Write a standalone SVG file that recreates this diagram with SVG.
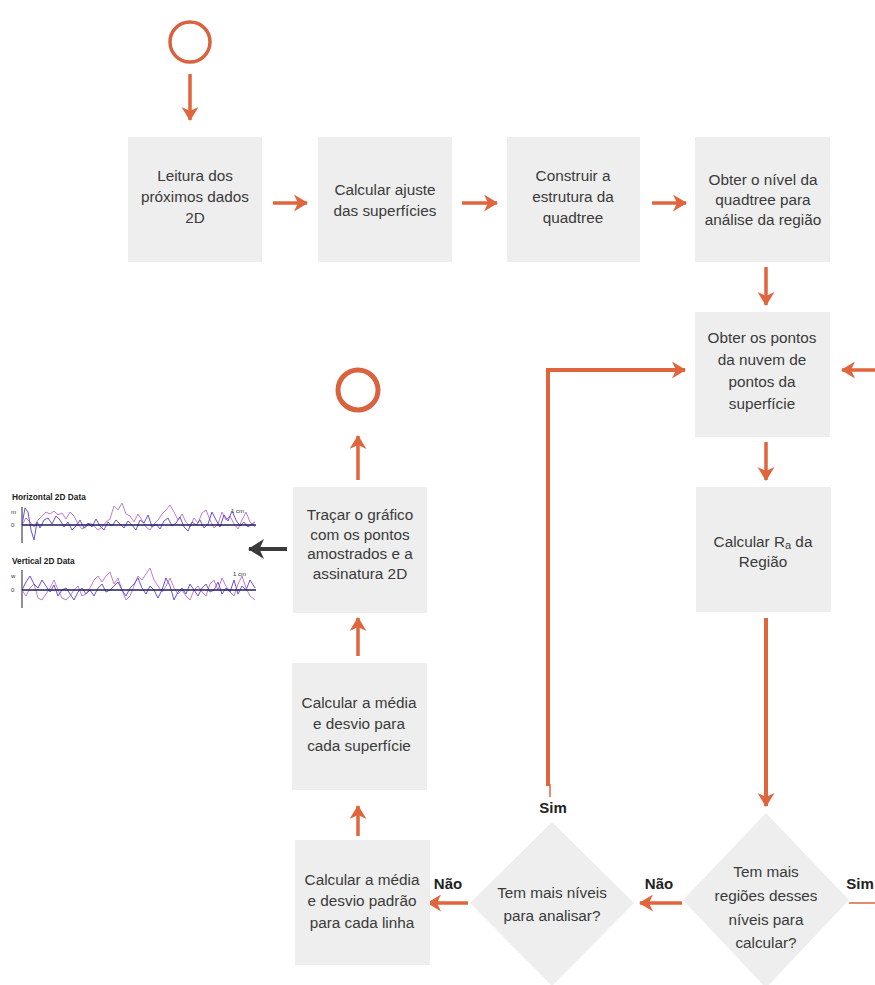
<svg xmlns="http://www.w3.org/2000/svg" width="875" height="985" viewBox="0 0 875 985">
  <defs>
    <style>
      .box { fill: #eeeeee; }
      .txt { font-family: "Liberation Sans", Arial, sans-serif; font-size: 15.3px; fill: #3a3a3a; text-anchor: middle; }
      .lbl { font-family: "Liberation Sans", Arial, sans-serif; font-size: 15px; font-weight: bold; fill: #222222; text-anchor: middle; }
      .flow { fill: none; stroke: #e0653d; stroke-width: 3.5; marker-end: url(#ah); }
      .thin { fill: none; stroke: #e0653d; stroke-width: 1.5; }
      .ring { fill: none; stroke: #d9623f; }
      .ctitle { font-family: "Liberation Sans", Arial, sans-serif; font-size: 8.3px; font-weight: bold; fill: #222222; }
      .ctick { font-family: "Liberation Sans", Arial, sans-serif; font-size: 6px; fill: #333333; }
    </style>
    <marker id="ah" markerUnits="userSpaceOnUse" markerWidth="15" markerHeight="17" refX="13" refY="8.5" orient="auto">
      <path d="M0,0 L14,8.5 L0,17 L4,8.5 z" fill="#e0653d"/>
    </marker>
    <marker id="ahd" markerUnits="userSpaceOnUse" markerWidth="17" markerHeight="20" refX="15" refY="10" orient="auto">
      <path d="M0,0 L16,10 L0,20 L4.5,10 z" fill="#3a3a3a"/>
    </marker>
  </defs>

  <!-- connectors -->
  <g id="connectors">
    <line class="flow" x1="190" y1="74" x2="190" y2="120"/>
    <line class="flow" x1="273" y1="203" x2="307" y2="203"/>
    <line class="flow" x1="462" y1="203" x2="497" y2="203"/>
    <line class="flow" x1="652" y1="203" x2="686" y2="203"/>
    <line class="flow" x1="766" y1="267" x2="766" y2="305"/>
    <line class="flow" x1="766" y1="442" x2="766" y2="480"/>
    <line class="flow" x1="766" y1="618" x2="766" y2="806" style="stroke-width:4"/>
    <line class="flow" x1="875" y1="370" x2="842" y2="370"/>
    <path class="flow" d="M548,786 L548,370 L685,370" style="stroke-width:4"/>
    <line class="thin" x1="550" y1="784" x2="550" y2="797"/>
    <line class="flow" x1="682" y1="903" x2="640" y2="903"/>
    <line class="flow" x1="468" y1="903" x2="428" y2="903"/>
    <line class="thin" x1="849" y1="903" x2="875" y2="903"/>
    <line class="flow" x1="358" y1="836" x2="358" y2="806"/>
    <line class="flow" x1="358" y1="656" x2="358" y2="618"/>
    <line class="flow" x1="358" y1="480" x2="358" y2="436"/>
    <line x1="287" y1="549" x2="249" y2="549" stroke="#3a3a3a" stroke-width="4" marker-end="url(#ahd)"/>
  </g>

  <!-- start / end -->
  <g id="start"><circle class="ring" cx="190" cy="42" r="20" stroke-width="3.5"/></g>
  <g id="end"><circle class="ring" cx="358" cy="390" r="20" stroke-width="5"/></g>

  <!-- process nodes -->
  <g id="leitura">
    <rect class="box" x="128" y="137" width="134" height="125"/>
    <text class="txt" x="195" y="181">Leitura dos</text>
    <text class="txt" x="195" y="202">próximos dados</text>
    <text class="txt" x="195" y="223">2D</text>
  </g>
  <g id="ajuste">
    <rect class="box" x="318" y="137" width="134" height="125"/>
    <text class="txt" x="385" y="195">Calcular ajuste</text>
    <text class="txt" x="385" y="216">das superfícies</text>
  </g>
  <g id="quadtree">
    <rect class="box" x="507" y="137" width="133" height="125"/>
    <text class="txt" x="573" y="181">Construir a</text>
    <text class="txt" x="573" y="202">estrutura da</text>
    <text class="txt" x="573" y="223">quadtree</text>
  </g>
  <g id="nivel">
    <rect class="box" x="695" y="137" width="135" height="125"/>
    <text class="txt" x="763" y="185">Obter o nível da</text>
    <text class="txt" x="763" y="205">quadtree para</text>
    <text class="txt" x="763" y="225">análise da região</text>
  </g>
  <g id="pontos">
    <rect class="box" x="695" y="312" width="135" height="125"/>
    <text class="txt" x="762" y="343">Obter os pontos</text>
    <text class="txt" x="762" y="365">da nuvem de</text>
    <text class="txt" x="762" y="387">pontos da</text>
    <text class="txt" x="762" y="409">superfície</text>
  </g>
  <g id="ra">
    <rect class="box" x="696" y="487" width="135" height="125"/>
    <text class="txt" x="763" y="547">Calcular R<tspan font-size="11px" dy="2">a</tspan><tspan dy="-2"> da</tspan></text>
    <text class="txt" x="763" y="567">Região</text>
  </g>
  <g id="tracar">
    <rect class="box" x="293" y="487" width="134" height="126"/>
    <text class="txt" x="360" y="520">Traçar o gráfico</text>
    <text class="txt" x="360" y="540">com os pontos</text>
    <text class="txt" x="360" y="559">amostrados e a</text>
    <text class="txt" x="360" y="579">assinatura 2D</text>
  </g>
  <g id="media-superficie">
    <rect class="box" x="292" y="663" width="135" height="127"/>
    <text class="txt" x="359" y="708">Calcular a média</text>
    <text class="txt" x="359" y="729">e desvio para</text>
    <text class="txt" x="359" y="751">cada superfície</text>
  </g>
  <g id="media-linha">
    <rect class="box" x="295" y="840" width="135" height="125"/>
    <text class="txt" x="362" y="885">Calcular a média</text>
    <text class="txt" x="362" y="906">e desvio padrão</text>
    <text class="txt" x="362" y="928">para cada linha</text>
  </g>

  <!-- decisions -->
  <g id="mais-niveis">
    <polygon class="box" points="552,822 634,903 552,986 470,903"/>
    <text class="txt" x="552" y="898">Tem mais níveis</text>
    <text class="txt" x="552" y="921">para analisar?</text>
  </g>
  <g id="mais-regioes">
    <polygon class="box" points="766,813 849,900 766,988 683,900"/>
    <text class="txt" x="766" y="877">Tem mais</text>
    <text class="txt" x="766" y="901">regiões desses</text>
    <text class="txt" x="766" y="925">níveis para</text>
    <text class="txt" x="766" y="948">calcular?</text>
  </g>

  <!-- branch labels -->
  <g id="labels">
    <text class="lbl" x="553" y="813">Sim</text>
    <text class="lbl" x="448" y="889">Não</text>
    <text class="lbl" x="659" y="889">Não</text>
    <text class="lbl" x="860" y="889">Sim</text>
  </g>

  <!-- sampled 2D signature plots -->
  <g id="plots">
    <text class="ctitle" x="12" y="500">Horizontal 2D Data</text>
    <text class="ctick" x="11" y="514">m</text>
    <text class="ctick" x="11" y="527">0</text>
    <text class="ctick" x="231" y="513">1 cm</text>
    <line x1="22" y1="507" x2="22" y2="543" stroke="#222" stroke-width="1"/>
    <polyline fill="none" stroke="#c27bd0" stroke-width="1" points="22,525 26,518 30,522 34,527 38,520 42,516 46,512 50,514 54,511 58,515 62,513 66,519 70,512 74,516 78,524 82,529 86,527 90,523 94,526 98,530 102,527 106,522 110,519 114,506 118,510 122,503 126,514 130,516 134,522 138,514 142,520 146,527 150,530 154,524 158,520 162,514 166,510 170,505 174,512 178,520 182,514 186,522 190,527 194,518 198,523 202,513 206,510 210,520 214,528 218,524 222,512 226,520 230,516 234,524 238,529 242,520 246,512 250,522 255,527"/>
    <polyline fill="none" stroke="#6a50d8" stroke-width="1" points="22,525 25,508 28,512 31,530 34,540 37,522 40,528 44,520 48,518 52,524 56,516 60,520 64,527 68,522 72,530 76,526 80,520 84,528 88,523 92,527 96,519 100,526 104,530 108,522 112,526 116,520 120,524 124,528 128,521 132,525 136,530 140,520 144,523 148,515 152,527 156,524 160,529 164,521 168,518 172,526 176,523 180,517 184,527 188,531 192,522 196,525 200,520 204,528 208,524 212,512 216,520 220,527 224,515 228,521 232,511 236,520 240,526 244,522 248,527 252,524 255,522"/>
    <line x1="22" y1="525" x2="256" y2="525" stroke="#1c1c5a" stroke-width="1.6"/>

    <text class="ctitle" x="12" y="564">Vertical 2D Data</text>
    <text class="ctick" x="11" y="578">w</text>
    <text class="ctick" x="11" y="592">0</text>
    <text class="ctick" x="233" y="576">1 cm</text>
    <line x1="22" y1="570" x2="22" y2="608" stroke="#222" stroke-width="1"/>
    <polyline fill="none" stroke="#c27bd0" stroke-width="1" points="22,590 26,596 30,588 34,584 38,598 42,600 46,594 50,588 54,580 58,590 62,598 66,600 70,596 74,590 78,586 82,596 86,594 90,588 94,580 98,576 102,582 106,576 110,572 114,584 118,578 122,590 126,600 130,596 134,586 138,576 142,580 146,574 150,568 154,580 158,586 162,592 166,586 170,578 174,588 178,594 182,590 186,596 190,600 194,590 198,586 202,592 206,596 210,584 214,580 218,590 222,578 226,586 230,592 234,596 238,584 242,576 246,588 250,596 255,600"/>
    <polyline fill="none" stroke="#6a50d8" stroke-width="1" points="22,590 26,582 30,576 34,584 38,588 42,580 46,586 50,592 54,585 58,596 62,590 66,588 70,594 74,600 78,592 82,588 86,594 90,590 94,596 98,588 102,584 106,592 110,590 114,586 118,582 122,590 126,596 130,588 134,584 138,578 142,588 146,594 150,586 154,590 158,598 162,590 166,578 170,586 174,600 178,592 182,588 186,594 190,584 194,590 198,596 202,588 206,584 210,592 214,590 218,582 222,594 226,588 230,592 234,580 238,594 242,586 246,590 250,580 255,588"/>
    <line x1="22" y1="590" x2="256" y2="590" stroke="#1c1c5a" stroke-width="1.6"/>
  </g>
</svg>
